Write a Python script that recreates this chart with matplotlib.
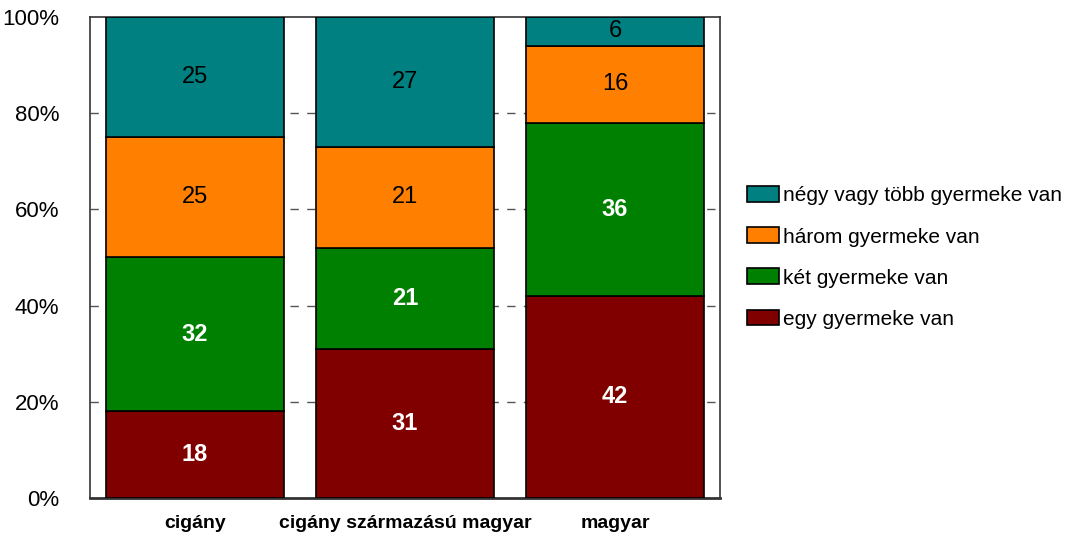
import matplotlib.pyplot as plt
import numpy as np
from matplotlib import font_manager

categories = ['cigány', 'cigány származású magyar', 'magyar']
series_names = ['egy gyermeke van', 'két gyermeke van', 'három gyermeke van', 'négy vagy több gyermeke van']
egy = [18, 31, 42]
ket = [32, 21, 36]
harom = [25, 21, 16]
negy = [25, 27, 6]
y_ticks = [0, 20, 40, 60, 80, 100]
y_labels = ['0%', '20%', '40%', '60%', '80%', '100%']

colors = ['#800000', '#008000', '#FF8000', '#008080']
label_colors = ['white', 'white', 'black', 'black']
label_weights = ['bold', 'bold', 'normal', 'normal']

names = {f.name for f in font_manager.fontManager.ttflist}
fam = ['Liberation Sans Narrow', 'Liberation Sans', 'DejaVu Sans']
plt.rcParams['font.family'] = [f for f in fam if f in names] or ['DejaVu Sans']

fig = plt.figure(figsize=(10.88, 5.34), dpi=100)
ax = fig.add_axes([90 / 1088, 1 - 498 / 534, 630 / 1088, 481 / 534])

x = np.arange(len(categories))
bottom = np.zeros(len(categories))
handles = []
for vals, name, col, lc, lw in zip([egy, ket, harom, negy], series_names, colors, label_colors, label_weights):
    bars = ax.bar(x, vals, width=0.85, bottom=bottom, color=col, edgecolor='black',
                  linewidth=1.2, label=name, zorder=3)
    handles.append(bars)
    for xi, v, b in zip(x, vals, bottom):
        ax.text(xi, b + v / 2, str(v), ha='center', va='center', color=lc,
                fontsize=17, fontweight=lw, zorder=4)
    bottom += np.array(vals)

ax.set_xlim(-0.5, 2.5)
ax.set_ylim(0, 100)
ax.set_yticks(y_ticks)
ax.set_yticklabels(y_labels, fontsize=16)
ax.set_xticks(x)
ax.set_xticklabels(categories, fontsize=14, fontweight='bold')
ax.tick_params(axis='x', length=0, pad=12)
ax.tick_params(axis='y', length=0, pad=22)
for yv in y_ticks[1:-1]:
    ax.axhline(yv, color='#555555', linestyle=(0, (6, 6)), linewidth=1, zorder=1)
for s in ax.spines.values():
    s.set_color('#333333')
    s.set_linewidth(1.2)
ax.spines['bottom'].set_linewidth(2)

leg = ax.legend(handles[::-1], series_names[::-1], loc='center left',
                bbox_to_anchor=(1.043, 0.5), frameon=False, fontsize=15,
                handlelength=1.55, handleheight=0.8, handletextpad=0.15,
                labelspacing=1.05, borderaxespad=0, borderpad=0)

fig.savefig('out.png', dpi=100)
